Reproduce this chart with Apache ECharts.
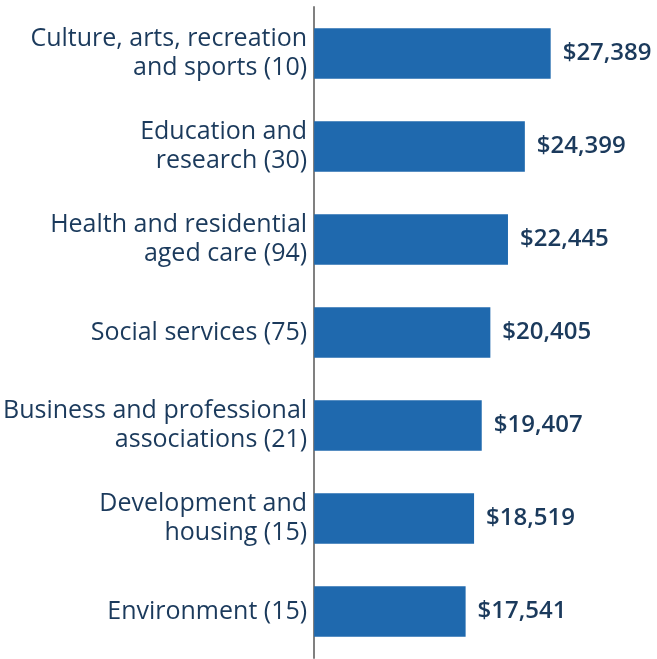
<!DOCTYPE html>
<html><head><meta charset="utf-8">
<script src="https://cdn.jsdelivr.net/npm/echarts@6/dist/echarts.min.js"></script>
<style>html,body{margin:0;padding:0;background:#fff}#c{width:657px;height:659px}</style>
</head><body><div id="c"></div>
<script>
const categories = [
  "Culture, arts, recreation\nand sports (10)",
  "Education and\nresearch (30)",
  "Health and residential\naged care (94)",
  "Social services (75)",
  "Business and professional\nassociations (21)",
  "Development and\nhousing (15)",
  "Environment (15)"
];
const values = [27389, 24399, 22445, 20405, 19407, 18519, 17541];

const chart = echarts.init(document.getElementById('c'), null, {renderer: 'canvas'});
chart.setOption({
  animation: false,
  grid: {left: 313, right: 0, top: 7, bottom: 1, containLabel: false},
  xAxis: {type: 'value', min: 0, max: 39700, show: false},
  yAxis: {
    type: 'category', data: categories, inverse: true,
    axisLine: {show: true, lineStyle: {color: '#808080', width: 2}},
    axisTick: {show: false},
    axisLabel: {margin: 7, color: '#1b3a5c', fontFamily: 'Open Sans', fontSize: 25, lineHeight: 29, align: 'right'}
  },
  series: [{
    type: 'bar', data: values, barCategoryGap: '45.5%',
    itemStyle: {color: '#1f69ae'},
    label: {show: true, position: 'right', distance: 12, color: '#1b3a5c', fontFamily: 'Open Sans', fontWeight: 600, fontSize: 24,
      formatter: p => '$' + p.value.toLocaleString('en-US')}
  }]
});
</script></body></html>
